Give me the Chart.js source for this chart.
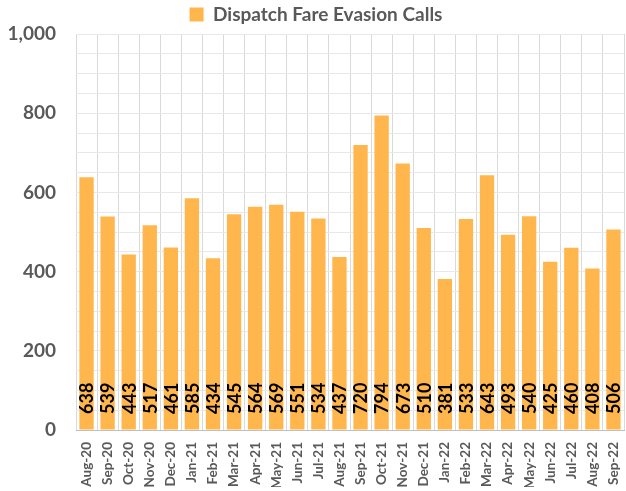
<!DOCTYPE html>
<html>
<head>
<meta charset="utf-8">
<script src="https://cdn.jsdelivr.net/npm/chart.js@4"></script>
<style>
  html, body { margin: 0; padding: 0; background: #fff; }
  #wrap { width: 626px; height: 491px; }
</style>
</head>
<body>
<div id="wrap"><canvas id="c" width="626" height="491"></canvas></div>
<script>
'use strict';

const months = ['Aug-20','Sep-20','Oct-20','Nov-20','Dec-20','Jan-21','Feb-21','Mar-21','Apr-21','May-21',
                'Jun-21','Jul-21','Aug-21','Sep-21','Oct-21','Nov-21','Dec-21','Jan-22','Feb-22','Mar-22',
                'Apr-22','May-22','Jun-22','Jul-22','Aug-22','Sep-22'];
const calls  = [638,539,443,517,461,585,434,545,564,569,551,534,437,720,794,673,510,381,533,643,493,540,425,460,408,506];

const FONT = 'Lato, "Open Sans", sans-serif';
const GREY = '#595959';

// Value labels written upward from near the base of each bar
const barLabels = {
    id: 'barLabels',
    afterDatasetsDraw(chart) {
        const ctx = chart.ctx;
        const meta = chart.getDatasetMeta(0);
        const base = chart.scales.y.getPixelForValue(0);
        ctx.save();
        ctx.font = 'bold 18px ' + FONT;
        ctx.fillStyle = '#000';
        ctx.textAlign = 'left';
        ctx.textBaseline = 'middle';
        meta.data.forEach((bar, i) => {
            ctx.save();
            ctx.translate(bar.x, base - 16);
            ctx.rotate(-Math.PI / 2);
            ctx.fillText(String(calls[i]), 0, 1);
            ctx.restore();
        });
        ctx.restore();
    }
};

new Chart(document.getElementById('c'), {
    type: 'bar',
    data: {
        labels: months,
        datasets: [{
            label: 'Dispatch Fare Evasion Calls',
            data: calls,
            backgroundColor: '#ffb74d',
            borderWidth: 0,
            categoryPercentage: 1,
            barPercentage: 0.68,
        }],
    },
    options: {
        responsive: false,
        animation: false,
        layout: { padding: { left: 8, right: 2, top: 0, bottom: 4 } },
        plugins: {
            legend: {
                labels: {
                    color: GREY,
                    font: { family: FONT, size: 19, weight: 'bold' },
                    boxWidth: 14,
                    boxHeight: 14,
                    padding: 5,
                },
            },
            tooltip: { enabled: false },
        },
        scales: {
            x: {
                afterFit: s => { s.height = 57; s.paddingLeft = 0; s.paddingRight = 0; },
                grid: { color: '#d9d9d9', offset: true, drawTicks: false },
                border: { color: '#bfbfbf' },
                ticks: {
                    color: GREY,
                    font: { family: FONT, size: 13.5, weight: 'bold' },
                    maxRotation: 90,
                    minRotation: 90,
                    autoSkip: false,
                    padding: 12,
                },
            },
            y: {
                min: 0,
                max: 1000,
                afterFit: s => { s.width = 68; },
                grid: { color: '#e8e8e8', drawTicks: false },
                border: { display: false },
                ticks: {
                    stepSize: 50,
                    autoSkip: false,
                    color: GREY,
                    padding: 20,
                    font: { family: FONT, size: 19, weight: 'bold' },
                    callback: v => (v % 200 === 0 ? v.toLocaleString('en-US') : ''),
                },
            },
        },
    },
    plugins: [barLabels],
});
</script>
</body>
</html>
